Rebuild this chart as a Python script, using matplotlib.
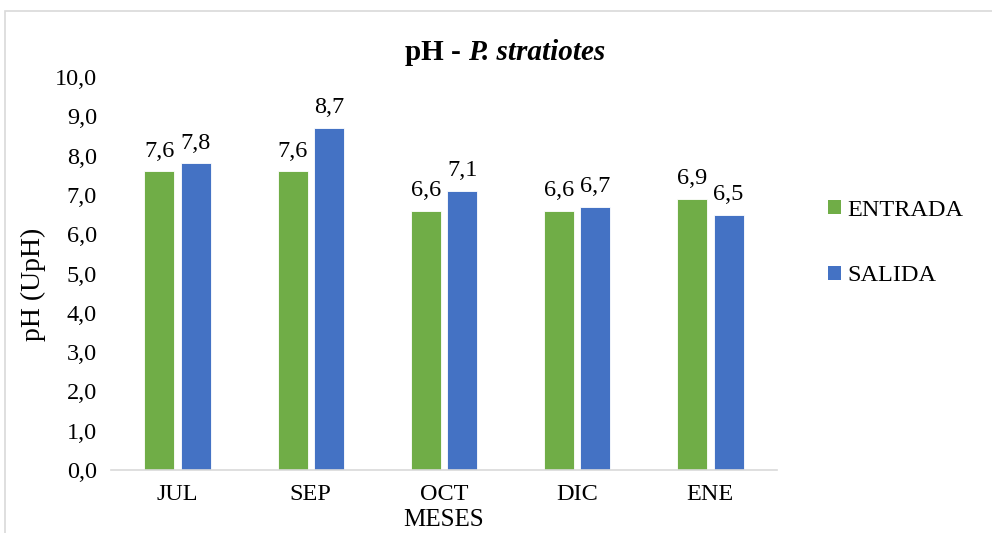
import matplotlib
matplotlib.use("Agg")
import matplotlib.pyplot as plt
from matplotlib.patches import Rectangle, Patch
import numpy as np

plt.rcParams["font.family"] = ["Liberation Serif", "DejaVu Serif"]

meses = ["JUL", "SEP", "OCT", "DIC", "ENE"]
entrada = [7.6, 7.6, 6.6, 6.6, 6.9]
salida = [7.8, 8.7, 7.1, 6.7, 6.5]
yticks = [0, 1, 2, 3, 4, 5, 6, 7, 8, 9, 10]

c_entrada = "#70AD47"
c_salida = "#4472C4"

W, H = 992, 533
fig = plt.figure(figsize=(W / 100, H / 100), dpi=100)

# light chart-area frame
fig.patches.append(Rectangle((5 / W, -0.1), 1.2, 1 - 11 / H + 0.1,
                             transform=fig.transFigure, fill=False,
                             edgecolor="#D9D9D9", linewidth=1.2))

ax = fig.add_axes([111 / W, 63 / H, 666 / W, 393 / H])
x = np.arange(len(meses))
bw = 0.225
off = 0.137
b1 = ax.bar(x - off, entrada, bw, color=c_entrada, edgecolor="white", linewidth=0.6)
b2 = ax.bar(x + off, salida, bw, color=c_salida, edgecolor="white", linewidth=0.6)

fs = 17.5
for bars, vals in ((b1, entrada), (b2, salida)):
    for r, v in zip(bars, vals):
        ax.annotate(f"{v:.1f}".replace(".", ","),
                    (r.get_x() + r.get_width() / 2, v),
                    xytext=(0, 7), textcoords="offset points",
                    ha="center", va="bottom", fontsize=fs)

ax.set_xlim(-0.5, len(meses) - 0.5)
ax.set_ylim(0, 10)
ax.set_yticks(yticks)
ax.set_yticklabels([f"{t:.1f}".replace(".", ",") for t in yticks], fontsize=fs)
ax.set_xticks(x)
ax.set_xticklabels(meses, fontsize=fs)
ax.tick_params(length=0, pad=10)
ax.tick_params(axis="x", pad=10)
for s in ("top", "right", "left"):
    ax.spines[s].set_visible(False)
ax.spines["bottom"].set_color("#D9D9D9")
ax.spines["bottom"].set_linewidth(1.2)

fig.text(33 / W, 1 - 284 / H, "pH (UpH)", rotation=90, ha="center",
         va="center", fontsize=20)
fig.text(444 / W, 1 - 520 / H, "MESES", ha="center", va="center", fontsize=18)

# title: bold "pH - " followed by bold italic species name
fig.canvas.draw()
renderer = fig.canvas.get_renderer()
tsize = 21
ty = 1 - 53 / H
t1 = fig.text(0, ty, "pH - ", ha="left", va="center",
              fontsize=tsize, fontweight="bold")
t2 = fig.text(0, ty, "P. stratiotes", ha="left", va="center",
              fontsize=tsize, fontweight="bold", fontstyle="italic")
w1 = t1.get_window_extent(renderer).width
w2 = t2.get_window_extent(renderer).width
x0 = 505 - (w1 + w2) / 2
t1.set_x(x0 / W)
t2.set_x((x0 + w1) / W)

handles = [Patch(facecolor=c_entrada, label="ENTRADA"),
           Patch(facecolor=c_salida, label="SALIDA")]
fig.legend(handles=handles, loc="center left",
           bbox_to_anchor=(806 / W, 1 - 243 / H), frameon=False,
           fontsize=fs, handlelength=0.55, handleheight=0.55,
           handletextpad=0.25, labelspacing=1.85)

fig.savefig("out.png", dpi=100, facecolor="white")
